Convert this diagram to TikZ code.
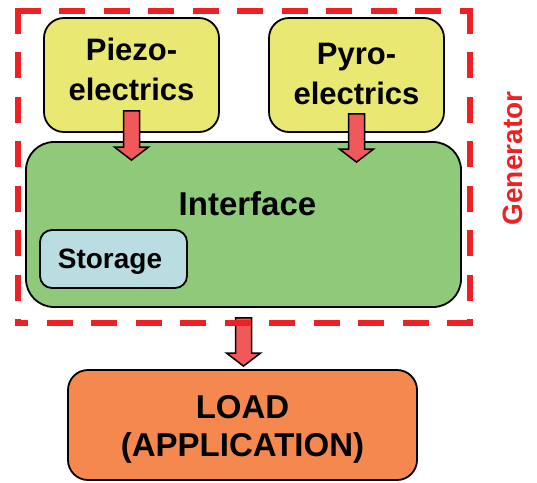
\documentclass[tikz,border=0pt]{standalone}
\usepackage{fontspec}
\setmainfont{Liberation Sans}
\usetikzlibrary{calc}

\definecolor{genred}{RGB}{237,32,36}
\definecolor{srcyellow}{RGB}{232,232,115}
\definecolor{ifgreen}{RGB}{143,201,122}
\definecolor{storeblue}{RGB}{185,221,225}
\definecolor{loadorange}{RGB}{244,136,79}
\definecolor{arrowred}{RGB}{240,88,90}

% vertical block arrow from #1 (top of shaft) to #2 (tip)
\newcommand\blockarrow[2]{%
  \draw[blockarrowstyle] let \p1=(#1), \p2=(#2) in
    (\x1-8pt,\y1) -- (\x1+8pt,\y1) -- (\x1+8pt,\y2+13pt) -- (\x1+17pt,\y2+13pt)
    -- (\x1,\y2) -- (\x1-17pt,\y2+13pt) -- (\x1-8pt,\y2+13pt) -- cycle;}

\begin{document}
\begin{tikzpicture}[x=1pt,y=-1pt,
  box/.style={draw=black, line width=1.8pt, inner sep=0pt},
  srcbox/.style={box, fill=srcyellow, rounded corners=20pt,
                 minimum width=175pt, minimum height=114pt},
  lbl/.style={inner sep=0pt, align=center, font=\bfseries},
  blockarrowstyle/.style={draw=black, line width=1.5pt, fill=arrowred, line join=miter},
  genframe/.style={draw=genred, line width=6.5pt, dash pattern=on 26pt off 18.5pt}]
\useasboundingbox (0,0) rectangle (537,482);

% energy sources
\node[srcbox] (piezo) at (131.5,75) {};
\node[srcbox] (pyro)  at (356.5,75) {};
\node[lbl, font=\bfseries\fontsize{31}{40}\selectfont] (piezotxt) at (131.5,69) {Piezo-\\electrics};
\node[lbl, font=\bfseries\fontsize{31}{40}\selectfont] (pyrotxt)  at (356.5,74) {Pyro-\\electrics};

% interface with storage
\node[box, fill=ifgreen, rounded corners=28pt, minimum width=435pt, minimum height=165pt]
  (iface) at (243.5,224.5) {};
\node[lbl, font=\bfseries\fontsize{33}{40}\selectfont, anchor=base] (ifacetxt) at (247.5,215) {Interface};
\node[box, fill=storeblue, rounded corners=12pt, minimum width=147pt, minimum height=58pt]
  (store) at (113.5,259) {};
\node[lbl, font=\bfseries\fontsize{28}{34}\selectfont, anchor=base] (storetxt) at (110,268) {Storage};

% load
\node[box, fill=loadorange, rounded corners=20pt, minimum width=349pt, minimum height=110pt]
  (load) at (242.5,425) {};
\node[lbl, font=\bfseries\fontsize{33}{38}\selectfont] (loadtxt) at (242.5,429) {LOAD\\(APPLICATION)};

% block arrows
\coordinate (pzA) at ([yshift=22pt]piezo.south);
\coordinate (pzB) at ($(pzA |- iface.north)+(0,19)$);
\coordinate (pyA) at ([yshift=19pt]pyro.south);
\coordinate (pyB) at ($(pyA |- iface.north)+(0,21)$);
\coordinate (ldA) at ($(iface.south)+(0,10)$);
\coordinate (ldB) at ($(ldA |- load.north)+(0,-3)$);
\blockarrow{pzA}{pzB}
\blockarrow{pyA}{pyB}
\blockarrow{ldA}{ldB}

% generator frame: each side dashed from its own starting corner
\draw[genframe] (14.75,11) -- (473.25,11);
\draw[genframe] (470,7.75) -- (470,326.25);
\draw[genframe] (473.25,323) -- (14.75,323);
\draw[genframe] (18,7.75) -- (18,326.25);
\node[lbl, text=genred, font=\bfseries\fontsize{28}{34}\selectfont, rotate=90] (gen) at (512.5,158.5) {Generator};
\end{tikzpicture}
\end{document}
